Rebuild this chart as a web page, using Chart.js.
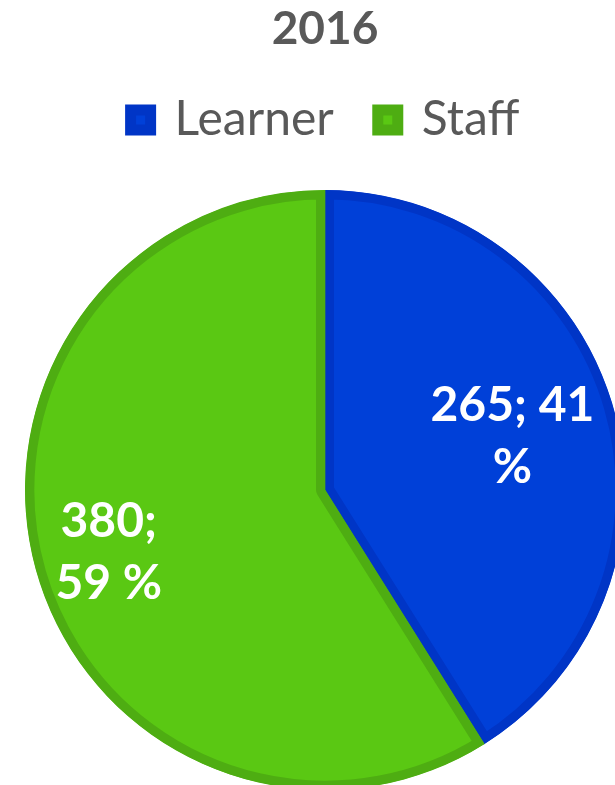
<!DOCTYPE html>
<html>
<head>
<meta charset="utf-8">
<script src="https://cdn.jsdelivr.net/npm/chart.js@4/dist/chart.umd.min.js"></script>
<style>
  html, body { margin: 0; padding: 0; background: #fff; overflow: hidden; }
  #wrap { position: absolute; left: 0; top: 0; width: 625px; height: 826px; }
</style>
</head>
<body>
<div id="wrap"><canvas id="chart" width="625" height="826"></canvas></div>
<script>
const title = '2016';
const categories = ['Learner', 'Staff'];
const values = [265, 380];
const percents = [41, 59];

const fillColors = ['#0040d8', '#5ac813'];
const borderColors = ['#0035c6', '#4ead12'];
const labelRadius = [0.65, 0.75];
const labelWrap = [175, 120];

// draws "value; pct %" inside each slice, wrapped like the original
const sliceLabels = {
    id: 'sliceLabels',
    afterDatasetsDraw(chart) {
        const ctx = chart.ctx;
        const arcs = chart.getDatasetMeta(0).data;
        ctx.save();
        ctx.font = 'bold 48px Lato';
        ctx.fillStyle = '#ffffff';
        ctx.textAlign = 'center';
        ctx.textBaseline = 'middle';
        arcs.forEach((arc, i) => {
            const mid = (arc.startAngle + arc.endAngle) / 2;
            const r = arc.outerRadius * labelRadius[i];
            const x = arc.x + Math.cos(mid) * r;
            const y = arc.y + Math.sin(mid) * r;
            const words = (values[i] + '; ' + percents[i] + ' %').split(' ');
            const lines = [];
            let line = '';
            words.forEach(w => {
                const test = line ? line + ' ' + w : w;
                if (line && ctx.measureText(test).width > labelWrap[i]) {
                    lines.push(line);
                    line = w;
                } else {
                    line = test;
                }
            });
            lines.push(line);
            const lh = 62;
            const top = y - (lines.length - 1) * lh / 2;
            lines.forEach((l, j) => ctx.fillText(l, x, top + j * lh));
        });
        ctx.restore();
    }
};

const ctx = document.getElementById('chart').getContext('2d');

const chart = new Chart(ctx, {
    type: 'pie',
    data: {
        labels: categories,
        datasets: [{
            data: values,
            backgroundColor: fillColors,
            borderColor: borderColors,
            borderWidth: 9,
            borderAlign: 'inner'
        }]
    },
    options: {
        responsive: false,
        animation: false,
        layout: { padding: { left: 25, right: 0, top: 0, bottom: 0 } },
        plugins: {
            tooltip: { enabled: false },
            title: {
                display: true,
                text: title,
                color: '#595959',
                font: { family: 'Lato', size: 46, weight: 'bold', lineHeight: 1 },
                padding: { top: 6, bottom: 0 }
            },
            legend: {
                position: 'top',
                labels: {
                    boxWidth: 20,
                    boxHeight: 20,
                    padding: 44,
                    color: '#595959',
                    font: { family: 'Lato', size: 48 },
                    generateLabels: (c) => categories.map((t, i) => ({
                        text: t,
                        fillStyle: fillColors[i],
                        strokeStyle: borderColors[i],
                        lineWidth: 11,
                        fontColor: '#595959',
                        hidden: false,
                        index: i
                    }))
                }
            }
        }
    },
    plugins: [sliceLabels]
});
</script>
</body>
</html>
